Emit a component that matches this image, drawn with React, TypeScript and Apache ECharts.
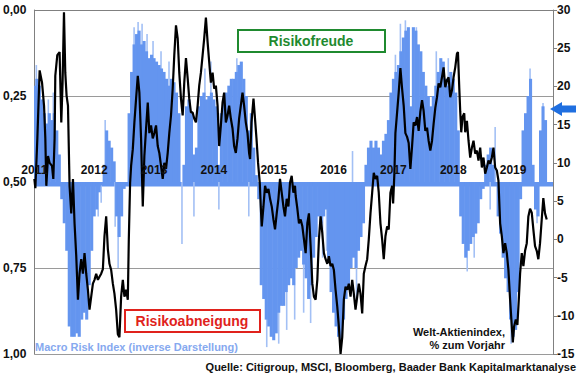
import React, { useEffect, useRef } from "react";
import * as echarts from "echarts";

// x unit: months since Jan 2011
const startYear = 2011;
const xMaxMonths = 104;

// Macro Risk Index (inverse scale, 0 = risk appetite, 1 = risk aversion), half-month steps
const macroRiskHalfMonthly: number[] = [
  0.22, 0.2, 0.22, 0.26, 0.3, 0.33, 0.3, 0.32, 0.3, 0.35,
  0.42, 0.55, 0.62, 0.7, 0.92, 0.95, 0.95, 0.94, 0.95, 0.9,
  0.88, 0.9, 0.8, 0.7, 0.6, 0.58, 0.53, 0.51, 0.45, 0.35,
  0.38, 0.4, 0.44, 0.6, 0.66, 0.6, 0.52, 0.5, 0.3, 0.18,
  0.1, 0.07, 0.06, 0.1, 0.09, 0.12, 0.14, 0.13, 0.14, 0.15,
  0.16, 0.17, 0.18, 0.2, 0.22, 0.2, 0.21, 0.24, 0.3, 0.5,
  0.45, 0.28, 0.26, 0.3, 0.42, 0.4, 0.28, 0.25, 0.24, 0.26,
  0.25, 0.24, 0.26, 0.28, 0.45, 0.3, 0.26, 0.24, 0.22, 0.2,
  0.2, 0.18, 0.16, 0.15, 0.2, 0.25, 0.35, 0.3, 0.4, 0.48,
  0.55, 0.8, 0.84, 0.9, 0.92, 0.95, 0.96, 0.94, 0.88, 0.86,
  0.86, 0.82, 0.8, 0.78, 0.8, 0.75, 0.72, 0.7, 0.74, 0.78,
  0.84, 0.8, 0.72, 0.66, 0.6, 0.62, 0.6, 0.58, 0.72, 0.82,
  0.88, 0.92, 0.95, 0.96, 0.9, 0.84, 0.8, 0.75, 0.72, 0.75,
  0.7, 0.66, 0.62, 0.45, 0.4, 0.38, 0.4, 0.38, 0.4, 0.42,
  0.38, 0.36, 0.32, 0.24, 0.2, 0.18, 0.16, 0.12, 0.08, 0.06,
  0.05, 0.28, 0.05, 0.06, 0.1, 0.12, 0.18, 0.22, 0.25, 0.28,
  0.25, 0.22, 0.18, 0.14, 0.15, 0.2, 0.22, 0.18, 0.2, 0.24,
  0.35, 0.6, 0.68, 0.72, 0.7, 0.68, 0.66, 0.65, 0.62, 0.55,
  0.52, 0.45, 0.42, 0.4, 0.45, 0.5, 0.6, 0.65, 0.72, 0.78,
  0.82, 0.9, 0.95, 0.93, 0.82, 0.55, 0.35, 0.3, 0.25, 0.2,
  0.45, 0.58, 0.6, 0.35, 0.28, 0.32,
];

// Lighter daily spikes of the Macro Risk Index: [month, value]
const macroRiskSpikes: [number, number][] = [
  [0.4, 0.16], [2.8, 0.26], [3.8, 0.24], [12.8, 0.6], [13.4, 0.56], [14.2, 0.32],
  [16.2, 0.63], [16.8, 0.75], [20, 0.05], [20.8, 0.035], [21.6, 0.04], [22.6, 0.07],
  [23.8, 0.09], [25.4, 0.12], [27, 0.15], [29.6, 0.68], [32, 0.6], [34.2, 0.17],
  [35.4, 0.15], [37, 0.58], [40.6, 0.14], [43, 0.6], [46.6, 0.98], [49, 0.97],
  [50.6, 0.93], [52.2, 0.9], [54, 0.88], [55.4, 0.91], [57.8, 0.72], [58.6, 0.7],
  [63.8, 0.41], [64.6, 0.85], [72.4, 0.13], [73.4, 0.04], [74.4, 0.03], [76.6, 0.05],
  [80.6, 0.12], [83, 0.14], [86.8, 0.76], [88.2, 0.72], [91.4, 0.58], [92.4, 0.34],
  [95.6, 0.97], [99.4, 0.17], [100.8, 0.62], [102, 0.27],
];

// Welt-Aktienindex, % zum Vorjahr: [month, value]
const worldYoY: [number, number][] = [
  [0, 7.9], [0.2, 6.7], [0.6, 13.2], [1.06, 22.1], [1.54, 20.5], [1.94, 17.5], [2.2, 13.2],
  [2.4, 7.0], [2.74, 10.9], [3.06, 10.0], [3.54, 9.6], [3.8, 7.9], [4.06, 13.2], [4.2, 21.4],
  [4.6, 24.1], [5.06, 24.5], [5.4, 15.3], [5.66, 20.5], [5.94, 29.7], [6.2, 21.8], [6.46, 18.8],
  [6.74, 17.5], [7.06, 7.0], [7.4, 3.4], [7.74, 7.9], [8.06, 2.1], [8.4, -2.2], [8.74, -7.9],
  [9.06, -4.5], [9.4, -2.6], [9.74, -4.5], [10.06, -1.8], [10.4, -4.5], [10.74, -6.6],
  [11.06, -9.2], [11.4, -7.5], [11.74, -5.8], [12.06, -5.3], [12.4, -4.5], [12.74, -5.3],
  [13.06, -4.9], [13.4, -4.5], [13.74, -3.9], [14.06, 0.4], [14.4, 3.0], [14.74, -1.3],
  [15.06, -3.2], [15.4, -4.0], [15.74, -5.8], [16.06, -7.1], [16.4, -9.2], [16.74, -12.4],
  [17.06, -12.8], [17.4, -7.5], [17.74, -5.3], [18.06, -7.5], [18.4, -6.6], [18.74, -7.9],
  [18.94, 0], [19.2, 7.4], [19.4, 9.6], [19.74, 11.8], [20.06, 15.3], [20.4, 18.4],
  [20.74, 21.4], [21.06, 19.2], [21.4, 13.2], [21.74, 4.3], [22.06, 10.9], [22.4, 14.5],
  [22.74, 17.9], [23.06, 13.9], [23.4, 14.9], [23.74, 13.2], [24.06, 13.9], [24.4, 14.9],
  [24.74, 12.2], [25.06, 11.3], [25.4, 9.6], [25.74, 7.9], [26.06, 10], [26.4, 9.2],
  [26.74, 11.3], [27.06, 13.9], [27.4, 16.2], [27.74, 19.7], [28.06, 24.1], [28.4, 28],
  [28.74, 26.3], [29.06, 21.8], [29.4, 18.4], [29.74, 16.2], [30.06, 20.5], [30.4, 23.7],
  [30.74, 21.1], [31.06, 18.4], [31.4, 16.6], [31.74, 16.6], [32.06, 15.8], [32.4, 15.3],
  [32.74, 17.5], [33.06, 20.1], [33.4, 21.8], [33.74, 24.1], [34.06, 26.3], [34.4, 29],
  [34.74, 25.8], [35.06, 23.2], [35.4, 20.5], [35.74, 21.8], [36.06, 19.7], [36.4, 20.1],
  [36.74, 17.5], [37.06, 12.2], [37.4, 14.9], [37.74, 17.9], [38.06, 19.2], [38.4, 15.3],
  [38.74, 16.2], [39.06, 17.5], [39.4, 15.8], [39.74, 14.5], [40.06, 12.2], [40.4, 11.3],
  [40.74, 13.2], [41.06, 15.8], [41.4, 17.5], [41.74, 19.2], [42.06, 17.5], [42.4, 15.3],
  [42.74, 13.9], [43.06, 11.3], [43.26, 10.5], [43.54, 15.3], [43.94, 18.4], [44.2, 16.2],
  [44.54, 13.2], [44.86, 10], [45.2, 7.4], [45.4, 4.3], [45.6, 1.7], [45.94, 4.3],
  [46.26, 7.0], [46.6, 6.1], [46.94, 6.6], [47.26, 5.3], [47.6, 4.3], [47.94, 2.6],
  [48.26, 1.3], [48.6, 3.4], [48.94, 5.3], [49.26, 7.9], [49.6, 6.1], [49.94, 4.3],
  [50.26, 3.0], [50.6, 5.3], [50.94, 4.3], [51.26, 7.4], [51.6, 8.3], [51.94, 6.1],
  [52.26, 7.0], [52.4, 5.7], [52.74, 4.0], [53.06, 2.1], [53.4, 2.6], [53.74, 1.7],
  [54.06, 0], [54.4, -1.8], [54.74, 2.1], [55.06, 3.4], [55.4, -0.9], [55.74, -5.8],
  [56.06, -7.5], [56.4, -7.9], [56.74, -5.3], [57.06, 0], [57.4, 3.0], [57.74, 0.8],
  [58.06, -1.8], [58.4, -2.6], [58.74, -3.2], [59.06, -2.2], [59.4, -3.5], [59.74, -3.2],
  [60.06, -4.0], [60.4, -6.6], [60.74, -8.8], [61.06, -11.4], [61.4, -15], [61.74, -12.8],
  [62.06, -7.9], [62.4, -6.2], [62.74, -6.6], [63.06, -5.8], [63.4, -7.5], [63.74, -5.3],
  [64.06, -7.1], [64.4, -9.2], [64.74, -7.5], [65.06, -5.8], [65.4, -7.1], [65.74, -9.7],
  [66.06, -4.5], [66.4, -3.5], [66.74, -2.6], [67.06, 0], [67.4, 3.4], [67.74, 6.1],
  [68.06, 8.7], [68.4, 7.9], [68.74, 8.3], [69.06, 6.1], [69.4, 2.1], [69.74, 0],
  [70.06, -2.6], [70.4, 0.4], [70.74, 1.7], [71.06, 1.3], [71.4, 6.1], [71.74, 7.0],
  [71.94, 4.7], [72.2, 8.7], [72.4, 13.9], [72.74, 16.6], [73.06, 19.2], [73.4, 22.4],
  [73.74, 19.7], [74.06, 17.5], [74.4, 13.9], [74.74, 13.4], [75.06, 12.6], [75.4, 9.2],
  [75.74, 12.2], [76.06, 15.3], [76.4, 14.9], [76.74, 16.0], [77.06, 14.2], [77.4, 16.7],
  [77.74, 18.2], [78.06, 16.8], [78.4, 14.2], [78.74, 14.6], [79.06, 12.9], [79.4, 11.6],
  [79.74, 12.9], [80.06, 15.1], [80.4, 17.2], [80.74, 18.6], [81.06, 20.4], [81.4, 19.9],
  [81.74, 21.2], [82.06, 22.5], [82.4, 19.9], [82.74, 20.8], [83.06, 21.2], [83.4, 18.6],
  [83.74, 19.5], [84.06, 21.2], [84.4, 22.5], [84.74, 24.3], [84.94, 24.5], [85.2, 19.9],
  [85.4, 16.7], [85.6, 14], [85.86, 16], [86.2, 16.5], [86.4, 14], [86.74, 15.5],
  [87.06, 12.9], [87.4, 10.7], [87.74, 12], [88.06, 12.9], [88.4, 11.2], [88.74, 11.6],
  [89.06, 10.3], [89.4, 12], [89.74, 9.4], [90.06, 10.7], [90.4, 8.6], [90.74, 9.4],
  [91.06, 10.3], [91.4, 9.9], [91.74, 10.7], [92.06, 12], [92.4, 9.4], [92.74, 9],
  [93.06, 7.7], [93.4, 2.1], [93.74, 0.4], [94.06, -1.8], [94.4, -0.5], [94.74, -1.8],
  [95.06, -4], [95.4, -7.9], [95.74, -11.4], [95.94, -13.5], [96.2, -11.4], [96.54, -10.5],
  [96.86, -11.2], [97.14, -7.9], [97.4, -4.5], [97.74, -1.8], [98.06, -3.5], [98.4, -1.5],
  [98.74, -0.5], [99.06, 3], [99.4, 4], [99.74, 3.5], [100.06, 1.3], [100.4, -0.9],
  [100.74, -1.5], [101.06, -2.6], [101.4, -0.5], [101.74, 2.6], [102.06, 5.4], [102.4, 3.4],
  [102.74, 2.6],
];

const leftTicks = { min: 0, max: 1, interval: 0.25 };
const rightTicks = { min: -15, max: 30, interval: 5 };

const DARK = "#6495ef";
const LIGHT = "#a3c0f5";
const FONT = "'Liberation Sans', Arial, sans-serif";

export default function App() {
  const ref = useRef<HTMLDivElement>(null);

  useEffect(() => {
    if (!ref.current) return;
    const chart = echarts.init(ref.current, undefined, { renderer: "svg" });

    const darkData = macroRiskHalfMonthly.map((v, i) => [i / 2, v]);

    const barRender = (color: string, fixedWidth: number | null) =>
      (params: any, api: any) => {
        const m = api.value(0);
        const v = api.value(1);
        const p0 = api.coord([m, 0.5]);
        const p1 = api.coord([m, v]);
        const w = fixedWidth ?? api.size([0.5, 0])[0] + 0.6;
        return {
          type: "rect",
          shape: {
            x: p0[0] - w / 2,
            y: Math.min(p0[1], p1[1]),
            width: w,
            height: Math.abs(p1[1] - p0[1]),
          },
          style: { fill: color },
        };
      };

    const boldText = { fontFamily: FONT, fontWeight: "bold" as const };

    chart.setOption({
      animation: false,
      backgroundColor: "#ffffff",
      grid: { left: 33, right: 27, top: 10, bottom: 21, containLabel: false },
      xAxis: {
        type: "value",
        min: 0,
        max: xMaxMonths,
        interval: 12,
        z: 20,
        axisLine: { show: true, lineStyle: { color: "#808080", width: 1 } },
        axisTick: { show: false },
        splitLine: { show: false },
        axisLabel: {
          margin: -190,
          color: "#111",
          fontSize: 12,
          ...boldText,
          formatter: (v: number) =>
            Number.isInteger(v / 12) ? String(startYear + v / 12) : "",
        },
      },
      yAxis: [
        {
          type: "value",
          inverse: true,
          ...leftTicks,
          position: "left",
          axisLine: { show: true, lineStyle: { color: "#808080" } },
          axisTick: { show: false },
          splitLine: { show: true, lineStyle: { color: "#9a9a9a", width: 1 } },
          axisLabel: {
            margin: 8,
            color: "#111",
            fontSize: 12,
            ...boldText,
            formatter: (v: number) => v.toFixed(2).replace(".", ","),
          },
        },
        {
          type: "value",
          ...rightTicks,
          position: "right",
          axisLine: { show: true, lineStyle: { color: "#808080" } },
          axisTick: { show: true, length: 4, lineStyle: { color: "#808080" } },
          splitLine: { show: false },
          axisLabel: {
            margin: 4,
            color: "#111",
            fontSize: 12,
            ...boldText,
          },
        },
      ],
      series: [
        {
          type: "custom",
          name: "spikes",
          xAxisIndex: 0,
          yAxisIndex: 0,
          renderItem: barRender(LIGHT, 1.6),
          encode: { x: 0, y: 1 },
          data: macroRiskSpikes,
          clip: true,
          z: 1,
        },
        {
          type: "custom",
          name: "Macro Risk Index",
          xAxisIndex: 0,
          yAxisIndex: 0,
          renderItem: barRender(DARK, null),
          encode: { x: 0, y: 1 },
          data: darkData,
          clip: true,
          z: 2,
          markArea: {
            silent: true,
            itemStyle: { color: DARK },
            data: [[{ yAxis: 0.5 }, { yAxis: 0.513 }]],
          },
        },
        {
          type: "line",
          name: "Welt-Aktienindex",
          xAxisIndex: 0,
          yAxisIndex: 1,
          data: worldYoY,
          showSymbol: false,
          symbol: "none",
          lineStyle: { color: "#000", width: 2.2 },
          z: 3,
        },
      ],
      graphic: [
        {
          type: "rect",
          z: 100,
          shape: { x: 238, y: 30, width: 147, height: 22 },
          style: { fill: "#fff", stroke: "#1f8a2f", lineWidth: 2 },
        },
        {
          type: "text",
          z: 101,
          x: 311,
          y: 41,
          style: {
            text: "Risikofreude",
            fill: "#1f8a2f",
            font: `bold 14px ${FONT}`,
            align: "center",
            verticalAlign: "middle",
          },
        },
        {
          type: "rect",
          z: 100,
          shape: { x: 125, y: 310, width: 135, height: 22 },
          style: { fill: "#fff", stroke: "#e0221c", lineWidth: 2 },
        },
        {
          type: "text",
          z: 101,
          x: 192,
          y: 321,
          style: {
            text: "Risikoabneigung",
            fill: "#e0221c",
            font: `bold 14px ${FONT}`,
            align: "center",
            verticalAlign: "middle",
          },
        },
        {
          type: "text",
          z: 101,
          x: 35,
          y: 347,
          style: {
            text: "Macro Risk Index (inverse Darstellung)",
            fill: "#86a9ef",
            font: `bold 11px ${FONT}`,
            align: "left",
            verticalAlign: "middle",
          },
        },
        {
          type: "text",
          z: 101,
          x: 505,
          y: 332,
          style: {
            text: "Welt-Aktienindex,",
            fill: "#111",
            font: `bold 11px ${FONT}`,
            align: "right",
            verticalAlign: "middle",
          },
        },
        {
          type: "text",
          z: 101,
          x: 505,
          y: 345,
          style: {
            text: "% zum Vorjahr",
            fill: "#111",
            font: `bold 11px ${FONT}`,
            align: "right",
            verticalAlign: "middle",
          },
        },
        {
          type: "text",
          z: 101,
          x: 576,
          y: 367,
          style: {
            text: "Quelle: Citigroup, MSCI, Bloomberg, Baader Bank Kapitalmarktanalyse",
            fill: "#111",
            font: `bold 11px ${FONT}`,
            align: "right",
            verticalAlign: "middle",
          },
        },
        {
          type: "polygon",
          z: 101,
          shape: {
            points: [
              [550, 109],
              [562, 102],
              [562, 105.5],
              [576, 105.5],
              [576, 112.5],
              [562, 112.5],
              [562, 116],
            ],
          },
          style: { fill: "#1f6fe0" },
        },
      ],
    });

    return () => chart.dispose();
  }, []);

  return (
    <div
      ref={ref}
      style={{ position: "fixed", left: 0, top: 0, width: 580, height: 375 }}
    />
  );
}
